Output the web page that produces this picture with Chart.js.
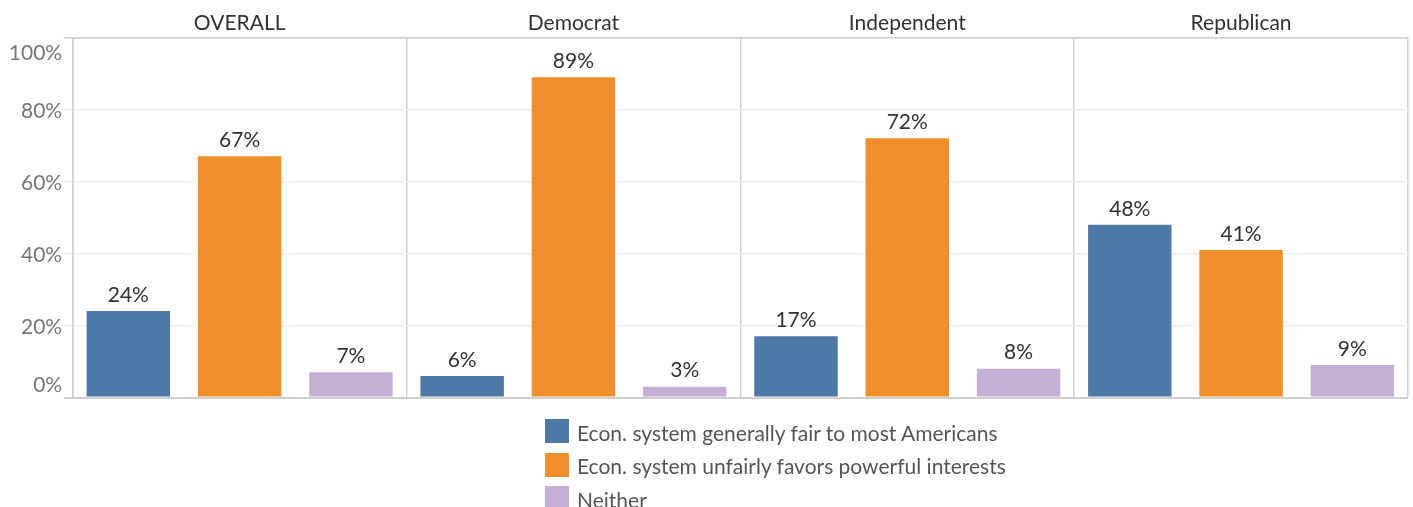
<!DOCTYPE html>
<html>
<head>
<meta charset="utf-8">
<script src="https://cdn.jsdelivr.net/npm/chart.js@4.4.1/dist/chart.umd.min.js"></script>
<style>
  html, body { margin: 0; padding: 0; background: #fff; }
  #wrap { position: relative; width: 1413px; height: 507px; overflow: hidden; }
  #legend { position: absolute; left: 545px; top: 414.5px; font-family: Lato, sans-serif; font-size: 21px; color: #555; }
  .item { display: flex; align-items: center; height: 33.5px; }
  .item span.sw { display: inline-block; width: 24px; height: 24px; margin-right: 8px; flex: none; }
  .item span.tx { position: relative; top: 1px; white-space: nowrap; }
</style>
</head>
<body>
<div id="wrap">
  <canvas id="c" width="1413" height="507"></canvas>
  <div id="legend"></div>
</div>
<script>
const panels = ['OVERALL', 'Democrat', 'Independent', 'Republican'];
const seriesNames = [
  'Econ. system generally fair to most Americans',
  'Econ. system unfairly favors powerful interests',
  'Neither'
];
const fairValues = [24, 6, 17, 48];
const unfairValues = [67, 89, 72, 41];
const neitherValues = [7, 3, 8, 9];
const yTicks = [0, 20, 40, 60, 80, 100];
const colors = ['#4e79a7', '#f28e2b', '#c5b0d5'];

const FONT = 'Lato, sans-serif';

const valueLabels = {
  id: 'valueLabels',
  afterDatasetsDraw(chart) {
    const ctx = chart.ctx;
    ctx.save();
    ctx.font = '21px ' + FONT;
    ctx.fillStyle = '#333';
    ctx.textAlign = 'center';
    ctx.textBaseline = 'middle';
    chart.data.datasets.forEach((ds, i) => {
      const meta = chart.getDatasetMeta(i);
      meta.data.forEach((bar, j) => {
        ctx.fillText(ds.data[j] + '%', bar.x, bar.y - 16);
      });
    });
    ctx.restore();
  }
};

const edgeColor = '#cfcfcf';
const gridColor = '#efefef';

new Chart(document.getElementById('c'), {
  type: 'bar',
  data: {
    labels: panels,
    datasets: [
      { label: seriesNames[0], data: fairValues, backgroundColor: colors[0] },
      { label: seriesNames[1], data: unfairValues, backgroundColor: colors[1] },
      { label: seriesNames[2], data: neitherValues, backgroundColor: colors[2] }
    ]
  },
  options: {
    responsive: false,
    animation: false,
    layout: { padding: { left: 6, right: 5, top: 8.4, bottom: 109.5 } },
    plugins: { legend: { display: false }, tooltip: { enabled: false } },
    datasets: { bar: { categoryPercentage: 1.0, barPercentage: 0.75 } },
    scales: {
      x: {
        position: 'top',
        grid: { offset: true, drawTicks: false, color: '#d2d2d2', lineWidth: 1.5 },
        border: { display: true, color: edgeColor, width: 1.5 },
        ticks: { color: '#333', font: { family: FONT, size: 21, lineHeight: 1.2 }, padding: 2 }
      },
      y: {
        min: 0, max: 100,
        afterBuildTicks(scale) { scale.ticks = yTicks.map(v => ({ value: v })); },
        afterFit(scale) { scale.width = 66.7; },
        grid: {
          color: ctx => (ctx.tick && (ctx.tick.value === 0 || ctx.tick.value === 100)) ? edgeColor : gridColor,
          lineWidth: ctx => (ctx.tick && ctx.tick.value === 0) ? 2 : 1.5,
          tickLength: 9
        },
        border: { display: true, color: edgeColor, width: 1.5 },
        ticks: {
          color: '#777',
          font: { family: FONT, size: 21, lineHeight: '28px' },
          padding: 1.5,
          labelOffset: 2,
          callback: v => v === 100 ? ['', v + '%'] : (v === 0 ? [v + '%', ''] : v + '%')
        }
      }
    }
  },
  plugins: [valueLabels]
});

const legend = document.getElementById('legend');
seriesNames.forEach((name, i) => {
  const row = document.createElement('div');
  row.className = 'item';
  row.innerHTML = '<span class="sw" style="background:' + colors[i] + '"></span><span class="tx"></span>';
  row.querySelector('.tx').textContent = name;
  legend.appendChild(row);
});
</script>
</body>
</html>
